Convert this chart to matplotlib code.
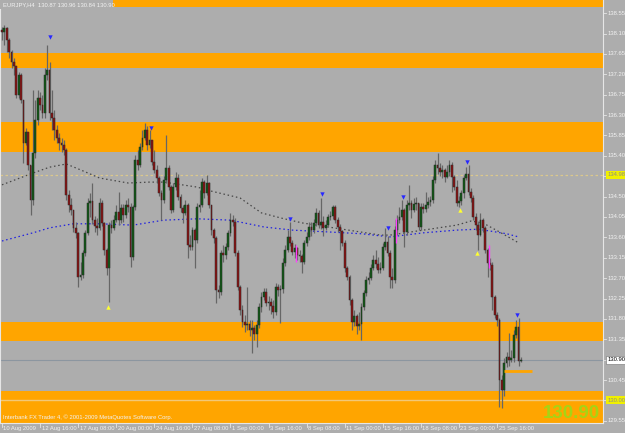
import matplotlib
matplotlib.use("Agg")
import matplotlib.pyplot as plt
import matplotlib.transforms as mtransforms
from matplotlib.patches import Rectangle

# ---------------- data ----------------
chart_title = "EURJPY,H4  130.87 130.96 130.84 130.90"
copyright_text = "Interbank FX Trader 4, \u00a9 2001-2009 MetaQuotes Software Corp."
last_price_text = "130.90"

first_open = 138.18
close = [138.13, 138.22, 137.96, 137.69, 137.47, 137.38, 136.74, 137.18, 136.63, 135.68,
         135.93, 135.20, 134.43, 135.46, 136.19, 136.68, 136.52, 136.35, 137.18, 137.29,
         136.35, 136.24, 135.97, 135.79, 135.68, 135.64, 135.53, 134.54, 134.31, 134.20,
         133.81, 133.70, 132.73, 132.77, 133.26, 133.70, 134.36, 134.40, 133.98, 133.85,
         133.81, 134.36, 133.92, 133.32, 132.92, 133.87, 133.81, 133.98, 134.16, 133.98,
         134.25, 134.09, 134.31, 134.27, 133.17, 134.27, 135.31, 135.20, 135.59, 135.79,
         135.97, 135.64, 135.75, 135.26, 135.09, 134.91, 134.58, 134.43, 134.87, 135.13,
         134.71, 134.20, 134.71, 134.91, 134.49, 134.25, 134.14, 134.31, 133.43, 133.39,
         133.76, 133.54, 134.27, 134.31, 134.82, 134.58, 134.80, 134.31, 133.76, 133.59,
         132.44, 132.40, 133.26, 133.21, 133.39, 133.70, 133.98, 133.94, 133.26, 132.50,
         132.00, 131.73, 131.67, 131.69, 131.55, 131.60, 131.47, 131.67, 132.06, 132.29,
         132.40, 132.15, 132.17, 132.09, 131.95, 132.50, 132.44, 132.46, 133.03, 133.32,
         133.61, 133.48, 133.28, 133.37, 133.21, 133.19, 133.06, 133.48, 133.61, 133.83,
         133.76, 133.92, 134.14, 133.87, 133.94, 133.81, 133.87, 134.05, 134.07, 134.27,
         133.98, 133.83, 133.74, 133.48, 132.92, 132.73, 132.22, 131.73, 131.86, 131.64,
         131.69, 132.06, 132.37, 132.66, 132.70, 132.92, 133.10, 133.01, 132.88, 132.92,
         133.39, 133.50, 133.26, 132.73, 132.66, 133.76, 133.98, 134.05, 134.20, 133.72,
         134.31, 134.36, 134.20, 134.34, 134.36, 133.83, 134.27, 134.23, 134.31, 134.38,
         134.43, 134.87, 135.20, 135.13, 135.04, 135.09, 134.93, 135.04, 135.20, 134.93,
         134.71, 134.36, 134.40, 134.58, 134.91, 135.00, 134.60, 134.47, 134.05, 133.87,
         133.65, 133.98, 133.81, 133.32, 133.03, 132.99, 132.29, 131.89, 131.78, 130.45,
         130.23, 130.83, 130.96, 130.89, 130.94, 131.44, 131.62, 130.87, 130.90]
high = [138.24, 138.29, 138.24, 138.00, 137.74, 137.56, 137.29, 137.25, 137.23, 136.63,
        136.01, 135.93, 135.20, 136.85, 136.63, 136.85, 136.81, 136.74, 137.34, 137.85,
        137.47, 136.85, 136.41, 136.08, 135.90, 135.79, 135.75, 135.57, 134.65, 134.47,
        134.20, 133.94, 133.72, 133.06, 133.32, 133.76, 134.47, 134.58, 134.80, 134.07,
        134.03, 134.47, 134.43, 133.94, 133.37, 133.94, 133.98, 134.09, 134.31, 134.60,
        134.34, 134.34, 134.43, 134.47, 134.36, 134.31, 135.42, 135.53, 135.68, 135.97,
        136.12, 136.05, 135.97, 135.75, 135.53, 135.20, 134.95, 134.65, 134.95, 135.86,
        135.20, 134.76, 134.80, 135.04, 135.00, 134.55, 134.31, 134.43, 134.36, 133.65,
        133.83, 133.81, 134.36, 134.65, 134.91, 134.87, 134.97, 134.82, 134.31, 133.81,
        133.63, 132.55, 133.32, 133.43, 133.48, 133.76, 134.14, 134.09, 134.03, 133.32,
        132.55, 132.11, 131.89, 132.50, 131.78, 131.78, 131.67, 131.78, 132.15, 132.40,
        132.48, 132.48, 132.31, 132.26, 132.22, 132.59, 132.57, 132.55, 133.15, 133.43,
        133.76, 133.94, 133.54, 133.45, 133.39, 133.32, 133.23, 133.54, 133.72, 133.94,
        133.94, 134.01, 134.25, 134.20, 134.47, 134.07, 133.98, 134.12, 134.18, 134.31,
        134.31, 134.05, 133.90, 133.76, 133.54, 132.97, 132.77, 132.26, 132.00, 131.91,
        131.95, 132.15, 132.44, 132.75, 132.84, 133.01, 133.21, 133.32, 133.17, 133.06,
        133.48, 133.81, 133.63, 133.32, 132.92, 133.85, 134.09, 134.27, 134.43, 134.25,
        134.43, 134.76, 134.43, 134.47, 134.49, 134.36, 134.36, 134.36, 134.60, 134.49,
        134.51, 134.95, 135.31, 135.46, 135.24, 135.20, 135.13, 135.20, 135.31, 135.26,
        134.97, 134.87, 134.51, 134.65, 134.97, 135.15, 135.20, 134.70, 134.54, 134.14,
        133.94, 134.14, 134.03, 133.85, 133.37, 133.15, 133.06, 132.33, 131.95, 131.82,
        130.56, 130.94, 131.07, 131.49, 131.11, 131.55, 131.78, 131.82, 130.96]
low = [137.96, 137.85, 137.69, 137.56, 137.34, 137.18, 136.68, 136.68, 136.57, 135.24,
       135.64, 135.09, 134.09, 134.31, 135.35, 136.08, 136.41, 136.24, 136.24, 137.07,
       136.19, 135.97, 135.75, 135.68, 135.53, 135.48, 135.42, 134.43, 134.16, 134.09,
       133.72, 133.59, 132.50, 132.66, 132.70, 133.19, 133.65, 134.05, 133.90, 133.72,
       133.65, 133.76, 133.85, 133.21, 132.77, 132.17, 133.70, 133.76, 133.94, 133.87,
       133.92, 133.94, 134.03, 134.16, 132.95, 133.10, 134.20, 135.09, 135.15, 135.53,
       135.75, 135.53, 135.57, 135.20, 135.02, 134.80, 134.51, 133.98, 134.36, 134.80,
       134.65, 134.14, 134.16, 134.65, 134.43, 134.16, 133.92, 134.09, 133.15, 133.32,
       133.32, 132.92, 133.48, 134.16, 134.27, 134.47, 134.54, 134.25, 133.65, 133.48,
       132.15, 132.26, 132.33, 133.06, 133.12, 133.32, 133.63, 133.85, 133.19, 132.44,
       131.89, 131.62, 131.51, 131.55, 131.42, 131.05, 131.33, 131.18, 131.60, 131.95,
       132.22, 132.09, 132.00, 131.91, 131.82, 131.89, 132.31, 131.71, 132.37, 132.97,
       133.28, 133.41, 133.21, 133.15, 133.10, 133.06, 132.82, 133.01, 133.41, 133.54,
       133.63, 133.70, 133.85, 133.81, 133.78, 133.63, 133.76, 133.83, 133.98, 134.01,
       133.92, 133.72, 133.32, 133.41, 132.84, 132.66, 132.11, 131.55, 131.64, 131.47,
       131.55, 131.33, 132.00, 132.31, 132.57, 132.66, 132.88, 132.92, 132.82, 132.82,
       132.88, 133.32, 133.19, 132.48, 132.48, 132.59, 133.65, 133.92, 133.98, 133.39,
       133.65, 134.20, 134.03, 134.16, 134.20, 133.76, 133.76, 134.14, 134.16, 134.25,
       134.29, 134.36, 134.80, 135.00, 134.95, 134.91, 134.82, 134.91, 134.95, 134.60,
       134.65, 134.29, 134.27, 134.31, 134.47, 134.87, 134.54, 134.38, 133.98, 133.76,
       133.32, 133.63, 133.72, 133.26, 132.73, 132.88, 132.00, 131.82, 131.64, 129.86,
       129.83, 130.10, 130.74, 130.76, 130.85, 130.85, 131.38, 130.76, 130.84]

# slow moving average (dark dotted) and blue moving average, read at bar positions
ma_dark_bars = [0, 13, 20, 27, 33, 41, 53, 62, 68, 82, 88, 100, 109, 117, 126, 137, 148,
                159, 163, 177, 191, 197, 202, 209, 217]
ma_dark_vals = [134.76, 135.02, 135.15, 135.22, 135.09, 134.91, 134.80, 134.82, 134.82,
                134.71, 134.62, 134.47, 134.14, 134.03, 133.92, 133.83, 133.74, 133.65,
                133.65, 133.76, 133.87, 133.96, 133.92, 133.72, 133.48]
ma_blue_bars = [0, 13, 20, 30, 41, 55, 68, 82, 96, 110, 122, 137, 151, 163, 177, 191,
                200, 205, 212, 217]
ma_blue_vals = [133.52, 133.70, 133.81, 133.90, 133.90, 133.87, 133.98, 134.01, 133.98,
                133.83, 133.76, 133.72, 133.68, 133.61, 133.70, 133.76, 133.78, 133.74,
                133.68, 133.61]

# fractal arrows
fractal_up_bars = [20, 62.5, 121, 134.5, 162, 168.5, 195.5, 216.5]
fractal_up_vals = [138.02, 136.01, 134.01, 134.55, 133.81, 134.49, 135.26, 131.89]
fractal_dn_bars = [44.5, 192.5, 199.5]
fractal_dn_vals = [132.06, 134.20, 133.26]

# magenta marks
magenta_bars = [123.5, 165.5, 204.6]
magenta_top = [133.43, 134.03, 133.43]
magenta_bot = [133.06, 133.48, 132.92]

# horizontal zones (price from, price to)
zone_lo = [138.69, 137.34, 135.48, 131.31, 129.30]
zone_hi = [139.00, 137.67, 136.15, 131.73, 130.21]

level_dotted = 134.98
level_bottom = 130.00
bid_price = 130.90
short_level = 130.65
short_level_bars = [211, 222.5]

price_ticks = [138.55, 138.10, 137.65, 137.20, 136.75, 136.30, 135.85, 135.40, 134.95,
               134.50, 134.05, 133.60, 133.15, 132.70, 132.25, 131.80, 131.35, 130.90,
               130.45, 130.00, 129.55]
time_bars = [0, 16, 32, 48, 64, 80, 96, 112, 128, 144, 160, 176, 192, 208]
time_labels = ["10 Aug 2009", "12 Aug 16:00", "17 Aug 08:00", "20 Aug 00:00",
               "24 Aug 16:00", "27 Aug 08:00", "1 Sep 00:00", "3 Sep 16:00",
               "8 Sep 08:00", "11 Sep 00:00", "15 Sep 16:00", "18 Sep 08:00",
               "23 Sep 00:00", "25 Sep 16:00"]

# ---------------- figure ----------------
W, H = 625, 433
BG = "#adadad"
ORANGE = "#ffa500"
fig = plt.figure(figsize=(W / 100, H / 100), dpi=100)
fig.patch.set_facecolor(BG)
ax = fig.add_axes([0, 10 / H, 603 / W, 423 / H])
ax.set_facecolor(BG)
ax.set_xlim(-0.84, 252.5)
ax.set_ylim(129.502, 138.84)
ax.set_xticks([])
ax.set_yticks([])
ax.spines["top"].set_visible(False)
for s in ["left", "right", "bottom"]:
    ax.spines[s].set_color("#e6e6e6")
    ax.spines[s].set_linewidth(0.8)

FONT = "Liberation Sans"
TXT = "#f2f2f2"

# zones
for lo, hi in zip(zone_lo, zone_hi):
    ax.axhspan(lo, hi, color=ORANGE, lw=0, zorder=1)

# levels
ax.axhline(level_dotted, color="#dcc88c", lw=0.9, ls=(0, (2, 2)), zorder=2)
ax.axhline(level_bottom, color="#f2c878", lw=1.0, zorder=2)
ax.axhline(bid_price, color="#8c96a0", lw=0.8, zorder=2)
ax.plot(short_level_bars, [short_level, short_level], color=ORANGE, lw=2.0,
        solid_capstyle="butt", zorder=6)

# moving averages
ax.plot(ma_dark_bars, ma_dark_vals, color="#474747", lw=0.9, ls=(0, (1.2, 2.2)), zorder=3)
ax.plot(ma_blue_bars, ma_blue_vals, color="#2020e0", lw=0.9, ls=(0, (1.2, 2.2)), zorder=3)

# candles
opens = [first_open] + close[:-1]
xs = list(range(len(close)))
ax.vlines(xs, low, high, color="#666666", lw=0.9, zorder=4)
for i, (o, c) in enumerate(zip(opens, close)):
    bottom = min(o, c)
    height = max(abs(c - o), 0.012)
    col = "#0f5a14" if c >= o else "#8c1212"
    ax.bar(i, height, bottom=bottom, width=0.75, color=col, edgecolor="#2a2a2a",
           linewidth=0.35, zorder=5)

# magenta marks
ax.vlines(magenta_bars, magenta_bot, magenta_top, color="#ff40ff", lw=1.0, zorder=6)

# fractals
ax.scatter(fractal_up_bars, fractal_up_vals, marker="v", s=10, color="#2828ff", zorder=7,
           linewidths=0)
ax.scatter(fractal_dn_bars, fractal_dn_vals, marker="^", s=10, color="#ffff30", zorder=7,
           linewidths=0)

# right price axis
trans_r = mtransforms.blended_transform_factory(ax.transAxes, ax.transData)
for p in price_ticks:
    ax.text(1.0075, p, f"{p:.2f}", transform=trans_r, fontsize=4.2, family=FONT,
            color=TXT, va="center", ha="left", clip_on=False)
    ax.plot([1.0, 1.005], [p, p], transform=trans_r, color="#e6e6e6", lw=0.6,
            clip_on=False)
ax.text(1.0075, level_dotted, f"{level_dotted:.2f}", transform=trans_r, fontsize=4.2,
        family=FONT, color="#8a8a8a", va="center", ha="left", clip_on=False, zorder=10,
        bbox=dict(boxstyle="square,pad=0.25", fc="#f0f000", ec="none"))
ax.text(1.0075, level_bottom, f"{level_bottom:.2f}", transform=trans_r, fontsize=4.2,
        family=FONT, color="#8a8a8a", va="center", ha="left", clip_on=False, zorder=10,
        bbox=dict(boxstyle="square,pad=0.25", fc="#f0f000", ec="none"))
ax.text(1.0075, bid_price, f"{bid_price:.2f}", transform=trans_r, fontsize=4.2,
        family=FONT, color="#000000", va="center", ha="left", clip_on=False, zorder=10,
        bbox=dict(boxstyle="square,pad=0.25", fc="#ffffff", ec="#707070", lw=0.4))

# time axis
trans_b = mtransforms.blended_transform_factory(ax.transData, ax.transAxes)
for b, lab in zip(time_bars, time_labels):
    ax.text(b + 0.6, -0.0125, lab, transform=trans_b, fontsize=4.2, family=FONT,
            color=TXT, va="center", ha="left", clip_on=False)
    ax.plot([b, b], [0, -0.009], transform=trans_b, color="#e6e6e6", lw=0.6,
            clip_on=False)

# title box
ax.add_patch(Rectangle((0, 1 - 9 / 423), 113 / 603, 9 / 423, transform=ax.transAxes,
                       color=BG, zorder=8, lw=0))
ax.text(3 / 603, 1 - 4.5 / 423, chart_title, transform=ax.transAxes, fontsize=4.2,
        family=FONT, color=TXT, va="center", ha="left", zorder=9)

# copyright and big price
ax.text(3 / 603, 6 / 423, copyright_text, transform=ax.transAxes, fontsize=4.2,
        family=FONT, color=TXT, va="center", ha="left", zorder=9)
ax.text(600 / 603, 5 / 423, last_price_text, transform=ax.transAxes, fontsize=13.5,
        family=FONT, weight="bold", color="#a6d414", va="baseline", ha="right", zorder=9)

fig.savefig("out.png", dpi=100, facecolor=BG)
